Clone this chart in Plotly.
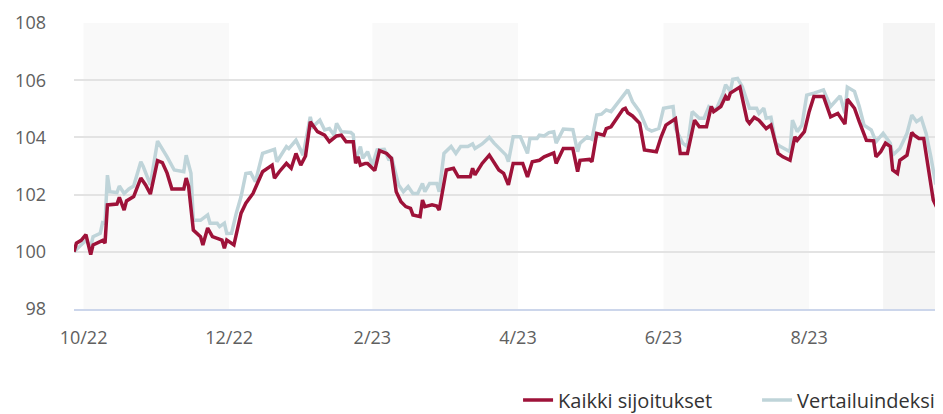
import plotly.graph_objects as go

# ---- Data ----
red_dates = [
    "2022-09-27", "2022-09-28", "2022-09-30", "2022-10-02", "2022-10-04", "2022-10-05", "2022-10-09", "2022-10-10",
    "2022-10-11", "2022-10-15", "2022-10-16", "2022-10-18", "2022-10-19", "2022-10-22", "2022-10-25", "2022-10-27",
    "2022-10-29", "2022-11-01", "2022-11-03", "2022-11-05", "2022-11-07", "2022-11-12", "2022-11-13", "2022-11-14",
    "2022-11-16", "2022-11-19", "2022-11-20", "2022-11-22", "2022-11-24", "2022-11-28", "2022-11-29", "2022-11-30",
    "2022-12-03", "2022-12-06", "2022-12-08", "2022-12-11", "2022-12-15", "2022-12-19", "2022-12-20", "2022-12-22",
    "2022-12-25", "2022-12-27", "2022-12-29", "2022-12-31", "2023-01-02", "2023-01-04", "2023-01-07", "2023-01-10",
    "2023-01-12", "2023-01-15", "2023-01-17", "2023-01-19", "2023-01-22", "2023-01-23", "2023-01-24", "2023-01-25",
    "2023-01-27", "2023-01-28", "2023-01-31", "2023-02-02", "2023-02-05", "2023-02-07", "2023-02-09", "2023-02-11",
    "2023-02-13", "2023-02-15", "2023-02-16", "2023-02-19", "2023-02-20", "2023-02-21", "2023-02-24", "2023-02-26",
    "2023-02-27", "2023-03-02", "2023-03-05", "2023-03-07", "2023-03-12", "2023-03-13", "2023-03-14", "2023-03-17",
    "2023-03-20", "2023-03-24", "2023-03-26", "2023-03-28", "2023-03-30", "2023-04-03", "2023-04-05", "2023-04-07",
    "2023-04-10", "2023-04-12", "2023-04-16", "2023-04-17", "2023-04-20", "2023-04-24", "2023-04-26", "2023-04-27",
    "2023-05-01", "2023-05-02", "2023-05-04", "2023-05-07", "2023-05-08", "2023-05-10", "2023-05-15", "2023-05-16",
    "2023-05-17", "2023-05-19", "2023-05-22", "2023-05-24", "2023-05-29", "2023-05-31", "2023-06-02", "2023-06-05",
    "2023-06-06", "2023-06-08", "2023-06-11", "2023-06-14", "2023-06-16", "2023-06-19", "2023-06-21", "2023-06-22",
    "2023-06-25", "2023-06-27", "2023-06-28", "2023-06-29", "2023-07-03", "2023-07-06", "2023-07-07", "2023-07-09",
    "2023-07-11", "2023-07-14", "2023-07-16", "2023-07-19", "2023-07-21", "2023-07-24", "2023-07-26", "2023-07-27",
    "2023-07-30", "2023-08-01", "2023-08-03", "2023-08-07", "2023-08-10", "2023-08-13", "2023-08-16", "2023-08-17",
    "2023-08-20", "2023-08-22", "2023-08-25", "2023-08-28", "2023-08-29", "2023-08-31", "2023-09-02", "2023-09-04",
    "2023-09-05", "2023-09-07", "2023-09-08", "2023-09-11", "2023-09-13", "2023-09-14", "2023-09-16", "2023-09-18",
    "2023-09-19", "2023-09-22", "2023-09-25", "2023-09-26",
]
red_values = [
    100.0, 100.3, 100.4, 100.6, 99.9, 100.24, 100.4, 100.3,
    101.64, 101.67, 101.9, 101.46, 101.78, 101.93, 102.58, 102.34,
    102.02, 103.19, 103.12, 102.75, 102.2, 102.2, 102.58, 102.3,
    100.76, 100.53, 100.24, 100.83, 100.53, 100.41, 100.12, 100.41,
    100.24, 101.35, 101.7, 102.04, 102.8, 103.03, 102.57, 102.8,
    103.09, 102.92, 103.44, 103.03, 103.35, 104.55, 104.2, 104.08,
    103.85, 104.05, 104.08, 103.85, 103.85, 103.09, 103.32, 103.03,
    103.09, 103.09, 102.84, 103.54, 103.44, 103.27, 102.1, 101.75,
    101.58, 101.52, 101.29, 101.23, 101.81, 101.58, 101.64, 101.6,
    101.46, 102.86, 102.92, 102.62, 102.62, 102.92, 102.69, 103.09,
    103.38, 102.86, 102.74, 102.34, 103.09, 103.09, 102.62, 103.15,
    103.2, 103.32, 103.46, 103.09, 103.61, 103.61, 102.8, 103.2,
    103.23, 103.15, 104.14, 104.08, 104.31, 104.37, 104.98, 105.02,
    104.86, 104.75, 104.49, 103.56, 103.5, 104.02, 104.43, 104.6,
    104.65, 103.44, 103.44, 104.6, 104.37, 104.37, 105.08, 104.9,
    105.08, 105.43, 105.31, 105.55, 105.76, 104.6, 104.49, 104.7,
    104.6, 104.31, 104.43, 103.44, 103.32, 103.2, 104.02, 103.9,
    104.2, 104.9, 105.43, 105.43, 104.72, 104.84, 104.47, 105.34,
    105.02, 104.55, 103.9, 103.88, 103.32, 103.5, 103.8, 103.68,
    102.86, 102.74, 103.2, 103.38, 104.17, 104.08, 103.96, 103.96,
    103.44, 101.81, 101.29, 101.81,
]

blue_dates = [
    "2022-09-27", "2022-10-01", "2022-10-02", "2022-10-04", "2022-10-05", "2022-10-08", "2022-10-09", "2022-10-10",
    "2022-10-11", "2022-10-12", "2022-10-15", "2022-10-16", "2022-10-18", "2022-10-20", "2022-10-22", "2022-10-25",
    "2022-10-26", "2022-10-29", "2022-11-01", "2022-11-05", "2022-11-08", "2022-11-12", "2022-11-13", "2022-11-15",
    "2022-11-16", "2022-11-19", "2022-11-22", "2022-11-23", "2022-11-26", "2022-11-27", "2022-11-29", "2022-11-30",
    "2022-12-02", "2022-12-04", "2022-12-06", "2022-12-08", "2022-12-10", "2022-12-12", "2022-12-15", "2022-12-20",
    "2022-12-21", "2022-12-25", "2022-12-26", "2022-12-29", "2023-01-01", "2023-01-04", "2023-01-05", "2023-01-08",
    "2023-01-10", "2023-01-12", "2023-01-14", "2023-01-15", "2023-01-17", "2023-01-21", "2023-01-22", "2023-01-23",
    "2023-01-25", "2023-01-26", "2023-01-28", "2023-01-30", "2023-02-01", "2023-02-04", "2023-02-06", "2023-02-07",
    "2023-02-10", "2023-02-12", "2023-02-14", "2023-02-16", "2023-02-18", "2023-02-20", "2023-02-21", "2023-02-23",
    "2023-02-26", "2023-02-27", "2023-03-01", "2023-03-04", "2023-03-06", "2023-03-08", "2023-03-11", "2023-03-13",
    "2023-03-14", "2023-03-17", "2023-03-20", "2023-03-22", "2023-03-25", "2023-03-27", "2023-03-28", "2023-03-30",
    "2023-04-02", "2023-04-05", "2023-04-06", "2023-04-09", "2023-04-10", "2023-04-12", "2023-04-14", "2023-04-16",
    "2023-04-17", "2023-04-20", "2023-04-24", "2023-04-26", "2023-04-27", "2023-04-30", "2023-05-02", "2023-05-04",
    "2023-05-06", "2023-05-08", "2023-05-10", "2023-05-15", "2023-05-17", "2023-05-19", "2023-05-22", "2023-05-25",
    "2023-05-27", "2023-05-30", "2023-06-01", "2023-06-05", "2023-06-06", "2023-06-09", "2023-06-11", "2023-06-13",
    "2023-06-16", "2023-06-18", "2023-06-20", "2023-06-23", "2023-06-26", "2023-06-27", "2023-06-29", "2023-06-30",
    "2023-07-02", "2023-07-04", "2023-07-07", "2023-07-10", "2023-07-11", "2023-07-13", "2023-07-14", "2023-07-16",
    "2023-07-18", "2023-07-20", "2023-07-24", "2023-07-25", "2023-07-27", "2023-07-29", "2023-07-31", "2023-08-03",
    "2023-08-06", "2023-08-07", "2023-08-10", "2023-08-14", "2023-08-16", "2023-08-17", "2023-08-20", "2023-08-22",
    "2023-08-24", "2023-08-27", "2023-08-29", "2023-09-01", "2023-09-04", "2023-09-05", "2023-09-08", "2023-09-11",
    "2023-09-13", "2023-09-15", "2023-09-17", "2023-09-19", "2023-09-21", "2023-09-23", "2023-09-25", "2023-09-26",
]
blue_values = [
    100.0, 100.35, 100.4, 100.18, 100.53, 100.65, 101.02, 101.0,
    102.68, 102.1, 102.07, 102.3, 102.04, 102.2, 102.3, 103.15,
    102.98, 102.34, 103.87, 103.32, 102.86, 102.8, 103.38, 102.75,
    101.1, 101.1, 101.29, 101.0, 101.0, 100.88, 101.0, 100.64,
    100.65, 101.35, 101.93, 102.74, 102.77, 102.45, 103.44, 103.58,
    103.15, 103.68, 103.61, 103.9, 103.38, 104.72, 104.37, 104.6,
    104.26, 104.31, 104.08, 104.49, 104.2, 104.17, 104.1, 103.2,
    103.68, 103.27, 103.5, 103.03, 103.56, 103.58, 103.2, 103.32,
    102.34, 102.1, 102.28, 102.04, 102.04, 102.39, 102.1, 102.39,
    102.39, 102.1, 103.44, 103.68, 103.44, 103.68, 103.68, 103.77,
    103.61, 103.77, 104.0, 103.8, 103.56, 103.38, 103.15, 104.02,
    104.02, 103.44, 103.96, 103.96, 104.08, 104.05, 104.17, 104.2,
    103.8, 104.29, 104.27, 103.5, 103.8, 104.02, 103.94, 104.78,
    104.81, 104.96, 104.9, 105.43, 105.66, 105.25, 104.9, 104.31,
    104.22, 104.31, 105.02, 105.08, 104.31, 103.8, 103.68, 104.9,
    104.67, 104.67, 105.08, 104.96, 105.55, 105.84, 105.61, 106.03,
    106.06, 105.77, 105.02, 105.02, 104.84, 105.02, 104.67, 104.7,
    103.8, 103.68, 103.5, 104.6, 104.2, 104.43, 105.48, 105.55,
    105.61, 105.66, 105.08, 105.45, 104.84, 105.76, 105.61, 105.08,
    104.43, 104.26, 103.85, 104.14, 103.8, 103.38, 103.61, 104.14,
    104.78, 104.55, 104.67, 104.14, 103.32, 102.39, 102.28, 102.39,
]

series_names = ["Kaikki sijoitukset", "Vertailuindeksi"]
tick_dates = ["2022-10-01", "2022-12-01", "2023-01-30", "2023-04-01", "2023-06-01", "2023-08-01"]
tick_labels = ["10/22", "12/22", "2/23", "4/23", "6/23", "8/23"]
band_starts = ["2022-10-01", "2023-01-30", "2023-06-01", "2023-09-01"]
band_ends = ["2022-12-01", "2023-04-01", "2023-08-01", "2023-09-27"]
band_colors = ["#f9f9f9", "#f9f9f9", "#f9f9f9", "#f5f5f5"]
x_range = ["2022-09-27", "2023-09-26 02:00"]
y_ticks = [98, 100, 102, 104, 106, 108]

RED = "#9e1239"
BLUE = "#bfd4d9"
FONT = "Open Sans"
TEXT = "#606060"

fig = go.Figure()
fig.add_trace(go.Scatter(
    x=blue_dates, y=blue_values, name=series_names[1], mode="lines",
    line=dict(color=BLUE, width=3.5), legendrank=2,
))
fig.add_trace(go.Scatter(
    x=red_dates, y=red_values, name=series_names[0], mode="lines",
    line=dict(color=RED, width=3.5), legendrank=1,
))

for s, e, c in zip(band_starts, band_ends, band_colors):
    fig.add_shape(type="rect", xref="x", yref="paper", x0=s, x1=e, y0=0, y1=1,
                  fillcolor=c, line=dict(width=0), layer="below")

# The page body has an 8px default margin, so the figure is 8px smaller.
fig.update_layout(
    width=935, height=406,
    margin=dict(l=66, r=0, t=15, b=105, autoexpand=False),
    paper_bgcolor="white", plot_bgcolor="white",
    font=dict(family=FONT, size=18, color=TEXT),
    showlegend=True,
    legend=dict(orientation="h", x=0.511, xanchor="left", y=-0.318, yanchor="middle",
                font=dict(family=FONT, size=20, color="#333333"),
                entrywidth=194, entrywidthmode="pixels",
                bgcolor="rgba(0,0,0,0)", itemwidth=30, traceorder="normal"),
    xaxis=dict(
        type="date", range=x_range, tickvals=tick_dates, ticktext=tick_labels,
        showgrid=False, zeroline=False, showline=True, linecolor="#ccd6eb", linewidth=1.5,
        ticks="", ticklabelstandoff=12, tickfont=dict(family=FONT, size=18, color=TEXT),
    ),
    yaxis=dict(
        range=[98, 108], tickvals=y_ticks, showgrid=True, gridcolor="#e3e3e3", gridwidth=1.5,
        zeroline=False, showline=False, ticks="", ticklabelstandoff=27,
        tickfont=dict(family=FONT, size=18, color=TEXT),
    ),
)

fig.write_html("out.html")
